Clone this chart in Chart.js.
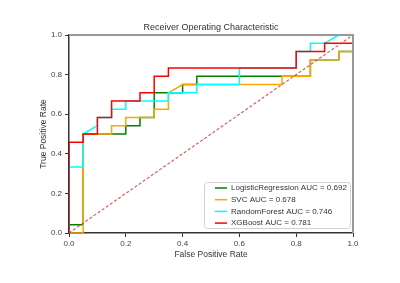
<!DOCTYPE html>
<html>
<head>
<meta charset="utf-8">
<script src="https://cdn.jsdelivr.net/npm/chart.js@4/dist/chart.umd.min.js"></script>
<style>
  body { margin: 0; background: #fff; }
  #wrap { width: 400px; height: 283px; }
</style>
</head>
<body>
<div id="wrap"><canvas id="rocChart" width="400" height="283"></canvas></div>
<script>
// ROC points (fpr, tpr), one pair of arrays per model
const lrFpr  = [0, 0, 0.05, 0.05, 0.2, 0.2, 0.25, 0.25, 0.3, 0.3, 0.4, 0.4, 0.45, 0.45, 0.85, 0.85, 0.95, 0.95, 1, 1];
const lrTpr  = [0, 0.042, 0.042, 0.5, 0.5, 0.542, 0.542, 0.583, 0.583, 0.708, 0.708, 0.75, 0.75, 0.792, 0.792, 0.875, 0.875, 0.917, 0.917, 1];

const svcFpr = [0, 0.05, 0.05, 0.15, 0.15, 0.2, 0.2, 0.3, 0.3, 0.35, 0.35, 0.4, 0.75, 0.75, 0.85, 0.85, 0.95, 0.95, 1, 1];
const svcTpr = [0, 0, 0.5, 0.5, 0.542, 0.542, 0.583, 0.583, 0.625, 0.625, 0.708, 0.75, 0.75, 0.792, 0.792, 0.875, 0.875, 0.917, 0.917, 1];

const rfFpr  = [0, 0, 0.05, 0.05, 0.1, 0.1, 0.15, 0.15, 0.2, 0.2, 0.35, 0.35, 0.45, 0.45, 0.6, 0.6, 0.8, 0.8, 0.85, 0.85, 0.9, 0.95, 1];
const rfTpr  = [0, 0.333, 0.333, 0.5, 0.542, 0.583, 0.583, 0.625, 0.625, 0.667, 0.667, 0.708, 0.708, 0.75, 0.75, 0.833, 0.833, 0.917, 0.917, 0.958, 0.958, 1, 1];

const xgbFpr = [0, 0, 0.05, 0.05, 0.1, 0.1, 0.15, 0.15, 0.25, 0.25, 0.3, 0.3, 0.35, 0.35, 0.8, 0.8, 0.9, 0.9, 1, 1];
const xgbTpr = [0, 0.458, 0.458, 0.5, 0.5, 0.583, 0.583, 0.667, 0.667, 0.708, 0.708, 0.792, 0.792, 0.833, 0.833, 0.917, 0.917, 0.958, 0.958, 1];

const models = ['LogisticRegression', 'SVC', 'RandomForest', 'XGBoost'];
const aucs = [0.692, 0.678, 0.746, 0.781];
const colors = ['#008000', '#ffa500', '#00ffff', '#ff0000'];

const axisTicks = [0, 0.2, 0.4, 0.6, 0.8, 1.0];

const FONT = 'Liberation Sans, Arial, sans-serif';

function toPoints(xs, ys){
    return xs.map((x, i) => ({x: x, y: ys[i]}));
}

// title, top/right spines and the legend box inside the plot
const extrasPlugin = {
    id: 'extras',
    afterDraw(chart){
        const ctx = chart.ctx;
        const a = chart.chartArea;
        ctx.save();

        ctx.strokeStyle = '#999';
        ctx.lineWidth = 2;
        ctx.beginPath();
        ctx.moveTo(a.left, a.top);
        ctx.lineTo(a.right, a.top);
        ctx.lineTo(a.right, a.bottom);
        ctx.stroke();

        ctx.fillStyle = '#333';
        ctx.font = '9px ' + FONT;
        ctx.textAlign = 'center';
        ctx.textBaseline = 'alphabetic';
        ctx.fillText('Receiver Operating Characteristic', (a.left + a.right) / 2, 30);

        // legend
        const bx = 204, by = 182, bw = 146, bh = 46;
        ctx.fillStyle = 'rgba(255,255,255,0.85)';
        ctx.strokeStyle = '#d0d0d0';
        ctx.lineWidth = 1;
        ctx.beginPath();
        ctx.roundRect(bx + 0.5, by + 0.5, bw, bh, 3);
        ctx.fill();
        ctx.stroke();

        ctx.font = '8px ' + FONT;
        ctx.textAlign = 'left';
        ctx.textBaseline = 'middle';
        for(let i = 0; i < models.length; i++){
            const y = by + 6 + i * 11.7;
            ctx.strokeStyle = colors[i];
            ctx.lineWidth = 1.5;
            ctx.beginPath();
            ctx.moveTo(bx + 11, y);
            ctx.lineTo(bx + 23, y);
            ctx.stroke();
            ctx.fillStyle = '#333';
            ctx.fillText(models[i] + ' AUC = ' + aucs[i].toFixed(3), bx + 27, y);
        }
        ctx.restore();
    }
};

function lineSet(label, xs, ys, color, order){
    return {
        label: label,
        data: toPoints(xs, ys),
        borderColor: color,
        backgroundColor: color,
        borderWidth: 1.5,
        showLine: true,
        pointRadius: 0,
        tension: 0,
        order: order
    };
}

const ctx = document.getElementById('rocChart').getContext('2d');
const chart = new Chart(ctx, {
    type: 'scatter',
    data: {
        datasets: [
            lineSet('LogisticRegression', lrFpr, lrTpr, colors[0], 4),
            lineSet('SVC', svcFpr, svcTpr, colors[1], 3),
            lineSet('RandomForest', rfFpr, rfTpr, colors[2], 2),
            lineSet('XGBoost', xgbFpr, xgbTpr, colors[3], 1),
            {
                label: 'diagonal',
                data: toPoints([0, 1], [0, 1]),
                borderColor: 'rgba(205, 70, 70, 0.85)',
                borderWidth: 1.2,
                borderDash: [3, 2],
                showLine: true,
                pointRadius: 0,
                order: 0
            }
        ]
    },
    options: {
        responsive: false,
        animation: false,
        layout: { padding: { top: 35, right: 47, left: 0, bottom: 0 } },
        plugins: {
            legend: { display: false },
            tooltip: { enabled: false }
        },
        scales: {
            x: {
                type: 'linear',
                min: 0, max: 1,
                afterBuildTicks: (s) => { s.ticks = axisTicks.map(v => ({value: v})); },
                afterFit: (s) => { s.height = 50; },
                ticks: {
                    color: '#444',
                    font: { family: FONT, size: 8 },
                    padding: 2,
                    maxRotation: 0,
                    callback: (v) => v.toFixed(1)
                },
                grid: { drawOnChartArea: false, drawTicks: true, tickLength: 4, color: '#333' },
                border: { color: '#333', width: 1.5 },
                title: {
                    display: true,
                    text: 'False Positive Rate',
                    color: '#333',
                    font: { family: FONT, size: 8.5 },
                    padding: { top: 0, bottom: 23.6 }
                }
            },
            y: {
                type: 'linear',
                min: 0, max: 1,
                afterBuildTicks: (s) => { s.ticks = axisTicks.map(v => ({value: v})); },
                afterFit: (s) => { s.width = 69; },
                ticks: {
                    color: '#444',
                    font: { family: FONT, size: 8 },
                    padding: 3,
                    callback: (v) => v.toFixed(1)
                },
                grid: { drawOnChartArea: false, drawTicks: true, tickLength: 4, color: '#333' },
                border: { color: '#333', width: 1.5 },
                title: {
                    display: true,
                    text: 'True Positive Rate',
                    color: '#333',
                    font: { family: FONT, size: 8.5 },
                    padding: { top: 38.2, bottom: 0 }
                }
            }
        }
    },
    plugins: [extrasPlugin]
});
</script>
</body>
</html>
